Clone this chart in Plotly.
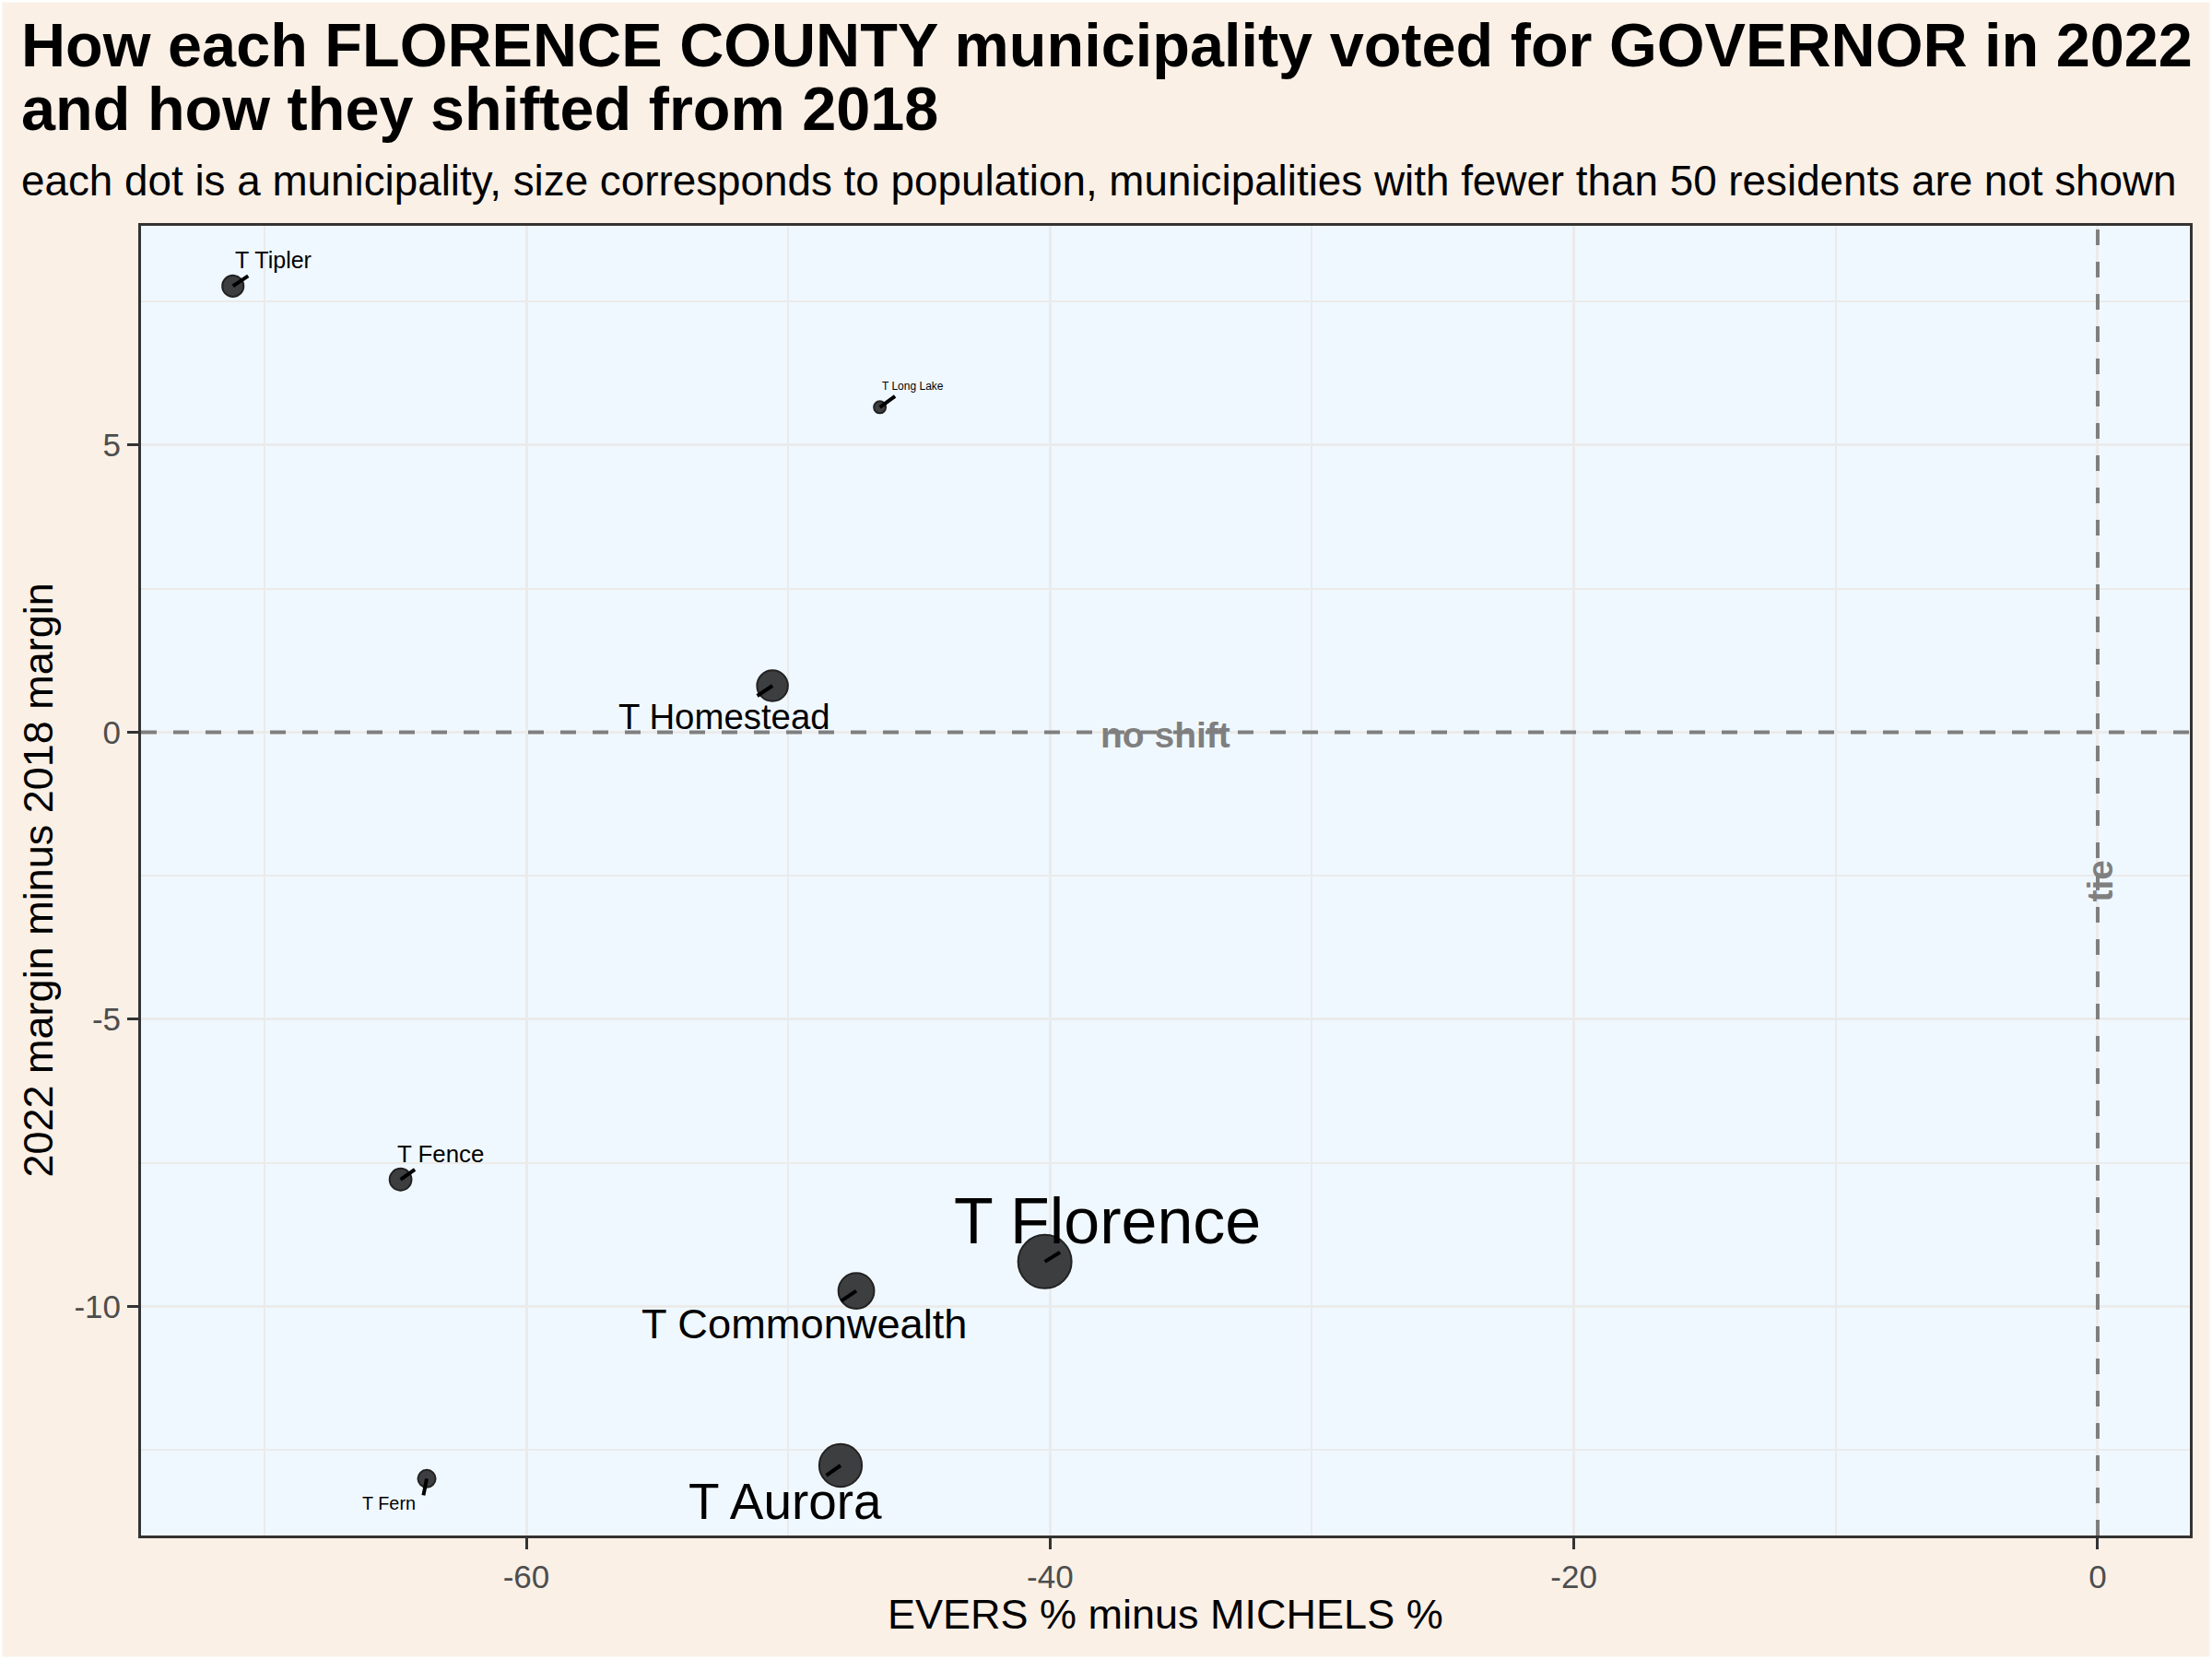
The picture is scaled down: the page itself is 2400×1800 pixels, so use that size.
import numpy as np
import plotly.graph_objects as go

# ---------------- data ----------------
municipalities = ["T Tipler", "T Long Lake", "T Homestead", "T Fence",
                  "T Florence", "T Commonwealth", "T Aurora", "T Fern"]
evers_minus_michels = [-71.2, -46.5, -50.6, -64.8, -40.2, -47.4, -48.0, -63.8]
shift_from_2018 = [7.77, 5.66, 0.81, -7.79, -9.22, -9.73, -12.77, -13.0]
population = [226, 110, 586, 242, 2410, 865, 1370, 152]

x_ticks = [-60, -40, -20, 0]
x_tick_labels = ["-60", "-40", "-20", "0"]
x_minor = [-70, -50, -30, -10]
y_ticks = [-10, -5, 0, 5]
y_tick_labels = ["-10", "-5", "0", "5"]
y_minor = [-12.5, -7.5, -2.5, 2.5, 7.5]
TIE = 0
NO_SHIFT = 0

TITLE1 = "How each FLORENCE COUNTY municipality voted for GOVERNOR in 2022"
TITLE2 = "and how they shifted from 2018"
SUBTITLE = ("each dot is a municipality, size corresponds to population, "
            "municipalities with fewer than 50 residents are not shown")

# ---------------- style ----------------
W, H = 2400, 1800
ML, MR, MT, MB = 153, 24, 245, 134
PW, PH = W - ML - MR, H - MT - MB
FONT = "Liberation Sans, Arial, Helvetica, sans-serif"

def px_x(px):
    return (px - ML) / PW

def px_y(py):
    return (H - MB - py) / PH

# label nudges (text centre offset, segment end offset) in screen pixels
label_style = {
    "T Tipler":       ((44, -28), (18, -12)),
    "T Long Lake":    ((36, -23), (18, -13)),
    "T Homestead":    ((-52, 33), (-18, 12)),
    "T Fence":        ((43, -28), (17, -12)),
    "T Florence":     ((68, -44), (18, -11)),
    "T Commonwealth": ((-56, 36), (-18, 12)),
    "T Aurora":       ((-60, 39), (-17, 12)),
    "T Fern":         ((-41, 27), (-4, 20)),
}

pop = np.array(population, dtype=float)
t = np.sqrt((pop - pop.min()) / (pop.max() - pop.min()))
marker_d = 13 + 45 * t
label_px = 12 + 58 * t

fig = go.Figure()
fig.add_trace(go.Scatter(
    x=evers_minus_michels, y=shift_from_2018, mode="markers",
    marker=dict(size=marker_d, color="#3D3E40", opacity=1,
                line=dict(color="#222222", width=2)),
    hoverinfo="text", text=municipalities,
))

annotations = []
for name, xv, yv, fs in zip(municipalities, evers_minus_michels, shift_from_2018, label_px):
    (dx, dy), (sx, sy) = label_style[name]
    annotations.append(dict(
        x=xv, y=yv, xref="x", yref="y", text=" ", showarrow=True,
        arrowhead=0, arrowwidth=4, arrowcolor="black", standoff=0,
        ax=sx, ay=sy, font=dict(size=1)))
    annotations.append(dict(
        x=xv, y=yv, xref="x", yref="y", text=name, showarrow=False,
        xshift=dx, yshift=-dy, xanchor="center", yanchor="middle",
        font=dict(family=FONT, size=fs, color="black")))

# reference labels
annotations.append(dict(x=0.5, xref="paper", y=NO_SHIFT, yref="y", text="<b>no shift</b>",
                        showarrow=False, yshift=-3, xanchor="center", yanchor="middle",
                        font=dict(family=FONT, size=39, color="#7F7F7F")))
annotations.append(dict(x=TIE, xref="x", y=0.5, yref="paper", text="<b>tie</b>",
                        showarrow=False, xshift=3, textangle=-90, xanchor="center",
                        yanchor="middle", font=dict(family=FONT, size=39, color="#7F7F7F")))

# titles
annotations.append(dict(x=px_x(21), y=px_y(49), xref="paper", yref="paper",
                        text="<b>" + TITLE1 + "</b>", showarrow=False,
                        xanchor="left", yanchor="middle",
                        font=dict(family=FONT, size=66.6, color="black")))
annotations.append(dict(x=px_x(21), y=px_y(118), xref="paper", yref="paper",
                        text="<b>" + TITLE2 + "</b>", showarrow=False,
                        xanchor="left", yanchor="middle",
                        font=dict(family=FONT, size=66.6, color="black")))
annotations.append(dict(x=px_x(21), y=px_y(197), xref="paper", yref="paper",
                        text=SUBTITLE, showarrow=False,
                        xanchor="left", yanchor="middle",
                        font=dict(family=FONT, size=45.8, color="black")))
# axis titles
annotations.append(dict(x=0.5, y=px_y(1751), xref="paper", yref="paper",
                        text="EVERS % minus MICHELS %", showarrow=False,
                        xanchor="center", yanchor="middle",
                        font=dict(family=FONT, size=45, color="black")))
annotations.append(dict(x=px_x(41), y=0.5, xref="paper", yref="paper",
                        text="2022 margin minus 2018 margin", showarrow=False,
                        textangle=-90, xanchor="center", yanchor="middle",
                        font=dict(family=FONT, size=45, color="black")))

shapes = [
    dict(type="line", x0=TIE, x1=TIE, xref="x", y0=0, y1=1, yref="paper",
         line=dict(color="#7F7F7F", width=4, dash="17px,18px"), layer="above"),
    dict(type="line", x0=0, x1=1, xref="paper", y0=NO_SHIFT, y1=NO_SHIFT, yref="y",
         line=dict(color="#7F7F7F", width=4, dash="17px,18px"), layer="above"),
    dict(type="rect", xref="paper", yref="paper",
         x0=px_x(0), x1=px_x(W), y0=px_y(H), y1=px_y(0),
         line=dict(color="white", width=5), fillcolor="rgba(0,0,0,0)", layer="above"),
]

axis_common = dict(
    ticks="outside", ticklen=12, tickwidth=3, tickcolor="#333333",
    tickfont=dict(family=FONT, size=35, color="#4D4D4D"),
    showgrid=True, gridcolor="#EBEBEB", gridwidth=3,
    showline=True, linecolor="#333333", linewidth=3, mirror=True,
    zeroline=False,
)

fig.update_layout(
    width=W, height=H,
    margin=dict(l=ML, r=MR, t=MT, b=MB, autoexpand=False),
    paper_bgcolor="#FAF0E6", plot_bgcolor="#F0F8FF",
    showlegend=False,
    xaxis=dict(range=[-74.71, 3.52], tickvals=x_ticks, ticktext=x_tick_labels,
               minor=dict(tickvals=x_minor, showgrid=True, gridcolor="#EBEBEB",
                          gridwidth=1.6, ticks=""),
               **axis_common),
    yaxis=dict(range=[-13.99, 8.82], tickvals=y_ticks, ticktext=y_tick_labels,
               minor=dict(tickvals=y_minor, showgrid=True, gridcolor="#EBEBEB",
                          gridwidth=1.6, ticks=""),
               **axis_common),
    annotations=annotations,
    shapes=shapes,
)

fig.write_html("out.html")
